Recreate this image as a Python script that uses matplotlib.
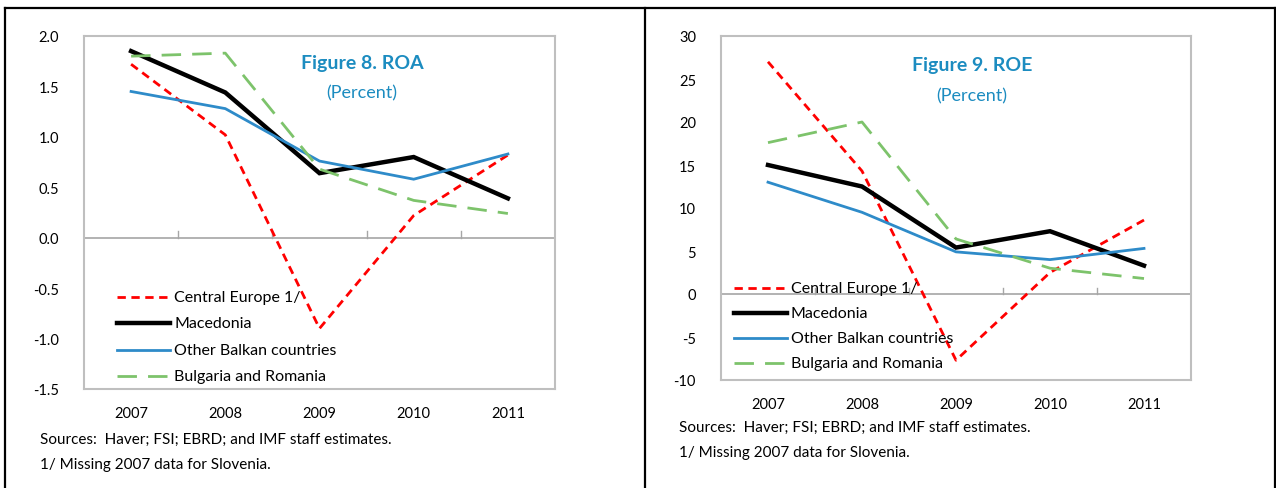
import matplotlib
matplotlib.use("Agg")
import matplotlib.pyplot as plt
from matplotlib.lines import Line2D
import numpy as np

plt.rcParams['font.family'] = ['Lato', 'DejaVu Sans']

years = ["2007", "2008", "2009", "2010", "2011"]
series_names = ["Central Europe 1/", "Macedonia", "Other Balkan countries", "Bulgaria and Romania"]

roa_central_europe = [1.72, 1.02, -0.90, 0.22, 0.82]
roa_macedonia = [1.85, 1.44, 0.64, 0.80, 0.39]
roa_other_balkan = [1.45, 1.28, 0.76, 0.58, 0.83]
roa_bulgaria_romania = [1.80, 1.83, 0.68, 0.37, 0.24]

roe_central_europe = [27.0, 14.3, -7.7, 2.5, 8.6]
roe_macedonia = [15.0, 12.5, 5.4, 7.3, 3.3]
roe_other_balkan = [13.0, 9.5, 4.9, 4.0, 5.3]
roe_bulgaria_romania = [17.6, 20.0, 6.4, 3.0, 1.8]

roa_ticks = [2.0, 1.5, 1.0, 0.5, 0.0, -0.5, -1.0, -1.5]
roe_ticks = [30, 25, 20, 15, 10, 5, 0, -5, -10]

W, H = 1276, 489
fig = plt.figure(figsize=(W / 100, H / 100), dpi=100)

def fx(px):
    return px / W

def fy(py):
    return 1 - py / H

TITLE_C = '#1C8CC0'
styles = [
    dict(color='#FF0000', lw=2.0, dashes=(3, 2)),
    dict(color='#000000', lw=3.2),
    dict(color='#2E8BC9', lw=2.0),
    dict(color='#7DC36B', lw=2.0, dashes=(7, 4)),
]

def make_panel(rect, data, yticks, ylim, fmt, title_xy, title_txt, leg_xy, leg_dy, src_xy):
    ax = fig.add_axes(rect)
    x = np.arange(len(years))
    for d, st in zip(data, styles):
        st = dict(st)
        dashes = st.pop('dashes', None)
        ln, = ax.plot(x, d, solid_joinstyle='miter', **st)
        if dashes:
            ln.set_dashes(dashes)
    ax.set_xlim(-0.5, len(years) - 0.5)
    ax.set_ylim(*ylim)
    ax.set_yticks(yticks)
    ax.set_yticklabels([fmt(v) for v in yticks], fontsize=10.5)
    ax.tick_params(axis='y', length=0, pad=18)
    ax.set_xticks(x)
    ax.set_xticklabels(years, fontsize=10.5)
    ax.tick_params(axis='x', length=0, pad=12)
    for s in ax.spines.values():
        s.set_color('#BFBFBF')
        s.set_linewidth(1.5)
    ax.axhline(0, color='#A6A6A6', lw=1.2, zorder=1)
    yr = ylim[1] - ylim[0]
    for b in np.arange(0.5, len(years) - 0.5, 1.0):
        ax.plot([b, b], [0, 0.018 * yr], color='#A6A6A6', lw=1.0, zorder=1)
    # titles
    fig.text(fx(title_xy[0]), fy(title_xy[1]), title_txt, color=TITLE_C,
             fontsize=14, fontweight='bold', ha='center', va='center')
    fig.text(fx(title_xy[0]), fy(title_xy[1] + 30), "(Percent)", color=TITLE_C,
             fontsize=13, ha='center', va='center')
    # legend
    lx, ly = leg_xy
    for i, (name, st) in enumerate(zip(series_names, styles)):
        st = dict(st)
        dashes = st.pop('dashes', None)
        yy = fy(ly + i * leg_dy)
        ln = Line2D([fx(lx), fx(lx + 53)], [yy, yy], transform=fig.transFigure, **st)
        if dashes:
            ln.set_dashes(dashes)
        fig.add_artist(ln)
        fig.text(fx(lx + 57), yy, name, fontsize=11.5, va='center', ha='left')
    sx, sy = src_xy
    fig.text(fx(sx), fy(sy), "Sources:  Haver; FSI; EBRD; and IMF staff estimates.",
             fontsize=11, va='center', ha='left')
    fig.text(fx(sx), fy(sy + 25), "1/ Missing 2007 data for Slovenia.",
             fontsize=11, va='center', ha='left')
    return ax

make_panel([fx(84), fy(390), fx(555 - 84), (390 - 37) / H],
           [roa_central_europe, roa_macedonia, roa_other_balkan, roa_bulgaria_romania],
           roa_ticks, (-1.5, 2.0), lambda v: f"{v:.1f}",
           (362, 63), "Figure 8. ROA", (117, 298), 26.3, (40, 440))

make_panel([fx(721), fy(381), fx(1191 - 721), (381 - 37) / H],
           [roe_central_europe, roe_macedonia, roe_other_balkan, roe_bulgaria_romania],
           roe_ticks, (-10, 30), lambda v: f"{v:d}",
           (972, 66), "Figure 9. ROE", (734, 289), 25, (679, 428))

# outer frame
for xs, ys in [([5, 1275], [9, 9]), ([5, 5], [9, 489]), ([1275, 1275], [9, 489]), ([645, 645], [9, 489])]:
    fig.add_artist(Line2D([fx(v) for v in xs], [fy(v) for v in ys],
                          transform=fig.transFigure, color='black', lw=1.6))

fig.savefig("out.png", dpi=100)
